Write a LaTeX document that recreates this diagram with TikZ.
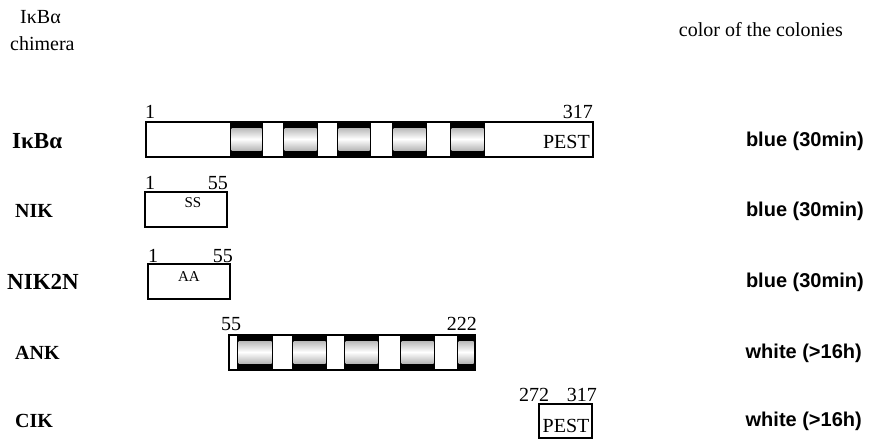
\documentclass[tikz,border=0pt]{standalone}
\usepackage{fontspec}
\setmainfont{Liberation Serif}
\setsansfont{Liberation Sans}

\tikzset{
  txt/.style={font=\fontsize{20}{22}\selectfont, inner sep=0pt},
  rowname/.style={font=\fontsize{20}{22}\selectfont\bfseries, inner sep=0pt, anchor=base west},
  bigname/.style={rowname, font=\fontsize{23}{25}\selectfont\bfseries},
  colour/.style={font=\fontsize{20}{22}\selectfont\sffamily\bfseries, inner sep=0pt, anchor=base east},
  small/.style={font=\fontsize{15}{17}\selectfont, inner sep=0pt, anchor=base},
  dom/.style={draw, line width=1.2pt},
  band/.style={top color=gray!55, bottom color=gray!55, middle color=white},
}

\begin{document}
\begin{tikzpicture}[x=1pt,y=-1pt]
  \useasboundingbox (0,0) rectangle (871,440);
  % headings
  \node[txt, anchor=base west] (head) at (20,23) {IκBα};
  \node[txt, anchor=base west] (chim) at (10,50) {chimera};
  \node[txt, anchor=base east] (colhead) at (843,36) {color of the colonies};
  % chimera names
  \node[bigname] (rIkb) at (12,148) {IκBα};
  \node[rowname] (rNIK) at (15,217) {NIK};
  \node[bigname] (rNIKtwo) at (7,289) {NIK2N};
  \node[rowname] (rANK) at (15,359) {ANK};
  \node[rowname] (rCIK) at (15,427) {CIK};
  % colony colours
  \node[colour] (cIkb) at (864,146) {blue (30min)};
  \node[colour] (cNIK) at (864,216) {blue (30min)};
  \node[colour] (cNIKtwo) at (864,287) {blue (30min)};
  \node[colour] (cANK) at (862,358) {white (>16h)};
  \node[colour] (cCIK) at (862,426) {white (>16h)};
  % IkBa, full length
  \fill[white] (146,122) rectangle (593,157);
  \foreach \a/\b in {230/263, 283/318, 337/371, 392/427, 450/485} {
    \fill[black] (\a,122) rectangle (\b,157);
    \shade[band] (\a+1.5,128) rectangle (\b-1.5,150);
  }
  \draw[dom] (146,122) rectangle (593,157);
  \node[txt, anchor=base west] (nIkbA) at (145,118) {1};
  \node[txt, anchor=base east] (nIkbB) at (593,118) {317};
  \node[txt, anchor=base east] (pestA) at (590,148) {PEST};
  % NIK
  \draw[dom] (145,192) rectangle (227,227);
  \node[txt, anchor=base west] (nNIKA) at (145,189) {1};
  \node[txt, anchor=base east] (nNIKB) at (228,189) {55};
  \node[small] (ss) at (193,207) {SS};
  % NIK2N
  \draw[dom] (148,264) rectangle (230,299);
  \node[txt, anchor=base west] (nTwoA) at (148,262) {1};
  \node[txt, anchor=base east] (nTwoB) at (233,262) {55};
  \node[small] (aa) at (189,281) {AA};
  % ANK, ankyrin repeats only
  \fill[white] (229,335) rectangle (475,370);
  \foreach \a/\b in {237/273, 292/327, 344/379, 400/435, 457/475} {
    \fill[black] (\a,335) rectangle (\b,370);
    \shade[band] (\a+1.5,341) rectangle (\b-1.5,363);
  }
  \draw[dom] (229,335) rectangle (475,370);
  \node[txt, anchor=base west] (nANKA) at (221,330) {55};
  \node[txt, anchor=base east] (nANKB) at (477,330) {222};
  % CIK
  \draw[dom] (539,404) rectangle (592,438);
  \node[txt, anchor=base west] (nCIKA) at (519,401) {272};
  \node[txt, anchor=base east] (nCIKB) at (597,401) {317};
  \node[txt, anchor=base] (pestB) at (566,432) {PEST};
\end{tikzpicture}
\end{document}
